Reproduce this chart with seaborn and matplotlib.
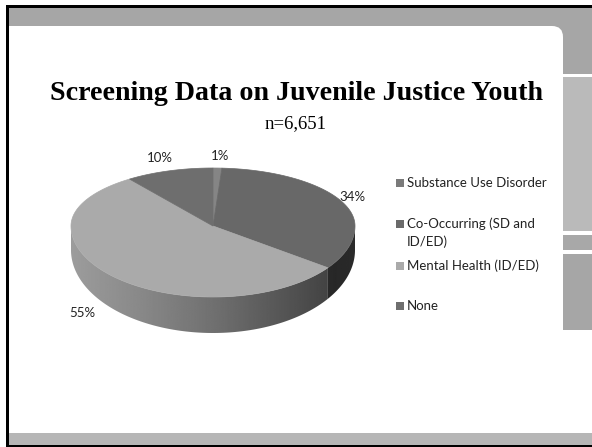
import numpy as np
import matplotlib
matplotlib.use("Agg")
import matplotlib.pyplot as plt
from matplotlib.patches import Rectangle, FancyBboxPatch, Polygon
import seaborn as sns

# ---- chart content ----
title = "Screening Data on Juvenile Justice Youth"
subtitle = "n=6,651"
categories = ["Substance Use Disorder", "Co-Occurring (SD and\nID/ED)",
              "Mental Health (ID/ED)", "None"]
shares = [1, 34, 55, 10]                      # percent of screened youth
face_colors = ["#858585", "#686868", "#aaaaaa", "#6e6e6e"]
legend_colors = ["#7a7a7a", "#6a6a6a", "#aaaaaa", "#6e6e6e"]
label_nudge = [(2, -2), (2, 0), (-23, -3), (-6, -3)]

sns.set_theme(style="white")
plt.rcParams["font.family"] = ["Lato", "DejaVu Sans"]

W, H = 592, 447
fig = plt.figure(figsize=(W / 100, H / 100), dpi=100)
fig.patch.set_facecolor("white")
ax = fig.add_axes([0, 0, 1, 1])
ax.set_xlim(0, W)
ax.set_ylim(H, 0)
ax.axis("off")

# ---- slide frame ----
ax.add_patch(Rectangle((9, 7), W - 9, 19, color="#a6a6a6", lw=0, zorder=0))
ax.add_patch(Rectangle((540, 7), W - 540, 67, color="#a6a6a6", lw=0, zorder=0))
ax.add_patch(FancyBboxPatch((-20, 26), 583, 440,
                            boxstyle="round,pad=0,rounding_size=11",
                            fc="white", ec="none", zorder=0.5))
ax.add_patch(Rectangle((563, 77), W - 563, 154, color="#bababa", lw=0, zorder=0.6))
ax.add_patch(Rectangle((563, 235), W - 563, 15, color="#a8a8a8", lw=0, zorder=0.6))
ax.add_patch(Rectangle((563, 254), W - 563, 76, color="#a6a6a6", lw=0, zorder=0.6))
ax.add_patch(Rectangle((9, 433), W - 9, 12, color="#b6b6b6", lw=0, zorder=0.6))
ax.add_patch(Rectangle((6, 5), 3, H - 5, color="black", lw=0, zorder=0.7))
ax.add_patch(Rectangle((6, 5), W - 6, 3, color="black", lw=0, zorder=0.7))
ax.add_patch(Rectangle((6, 445), W - 6, 2, color="black", lw=0, zorder=0.7))

# ---- titles ----
ax.text(297, 100, title, family=["Liberation Serif"], weight="bold",
        fontsize=20.2, ha="center", va="baseline", color="black", zorder=3)
ax.text(296, 128, subtitle, family=["Liberation Serif"], fontsize=13.5,
        ha="center", va="baseline", color="black", zorder=3)

# ---- 3-D pie ----
cx, cy = 213, 226
a, b_back, b_front = 142, 58, 71


def rim(t_deg, bottom=False):
    t = np.radians(np.asarray(t_deg, dtype=float))
    s = np.sin(t)
    b = np.where(s > 0, b_back, b_front)
    x = cx + a * np.cos(t)
    y = cy - b * s
    if bottom:
        y = y + 24 + 12 * np.clip(-s, 0, None)
    return x, y


def shade(x):
    u = (np.asarray(x) - (cx - a)) / (2 * a)
    return np.interp(u, [0.0, 0.25, 0.5, 0.75, 0.93, 1.0],
                     [0.92, 0.80, 0.66, 0.50, 0.38, 0.41])


frac = np.asarray(shares, dtype=float) / np.sum(shares)
ends = 90 - 360 * np.cumsum(frac)
starts = np.r_[90, ends[:-1]]

# side walls (front half only) with left-to-right shading
xs = np.linspace(cx - a - 2, cx + a + 2, 400)
for col, t0, t1 in zip(face_colors, starts, ends):
    hi, lo = min(t0, 0), max(t1, -180)
    if hi <= lo:
        continue
    ts = np.linspace(hi, lo, 120)
    xt, yt = rim(ts)
    xb, yb = rim(ts[::-1], bottom=True)
    poly = Polygon(np.c_[np.r_[xt, xb], np.r_[yt, yb]], closed=True,
                   fc="none", ec="none")
    ax.add_patch(poly)
    g = matplotlib.colors.to_rgb(col)[0]
    img = (g * shade(xs))[None, :]
    im = ax.imshow(img, cmap="gray", vmin=0, vmax=1, aspect="auto",
                   extent=[xs[0], xs[-1], 345, 220], zorder=1,
                   interpolation="bilinear")
    im.set_clip_path(poly)

# top faces
for col, t0, t1 in zip(face_colors, starts, ends):
    ts = np.linspace(t0, t1, max(4, int(abs(t0 - t1) * 2)))
    x, y = rim(ts)
    pts = np.c_[np.r_[cx, x], np.r_[cy, y]]
    ax.add_patch(Polygon(pts, closed=True, fc=col, ec=col, lw=0.5, zorder=2))

# percentage labels
mids = (starts + ends) / 2
for v, t, (dx, dy) in zip(shares, mids, label_nudge):
    tr = np.radians(t)
    s = np.sin(tr)
    b = b_back if s > 0 else b_front
    x = cx + (a + 10) * np.cos(tr)
    y = cy - (b + 10) * s
    if s < 0:
        y += 24 + 12 * (-s)
    ax.text(x + dx, y + dy, f"{v}%", fontsize=9.5, ha="center", va="center",
            color="#222222", zorder=3)

ax.set_xlim(0, W)
ax.set_ylim(H, 0)

# ---- legend ----
legend_y = [183, 224, 266, 306]
for lab, col, yc in zip(categories, legend_colors, legend_y):
    ax.add_patch(Rectangle((396, yc - 4), 8, 8, color=col, lw=0, zorder=3))
    nlines = lab.count("\n") + 1
    ax.text(407, yc + 9 * (nlines - 1), lab, fontsize=9.5, ha="left",
            va="center", color="#222222", zorder=3, linespacing=1.55)

fig.savefig("out.png", dpi=100, facecolor="white")
